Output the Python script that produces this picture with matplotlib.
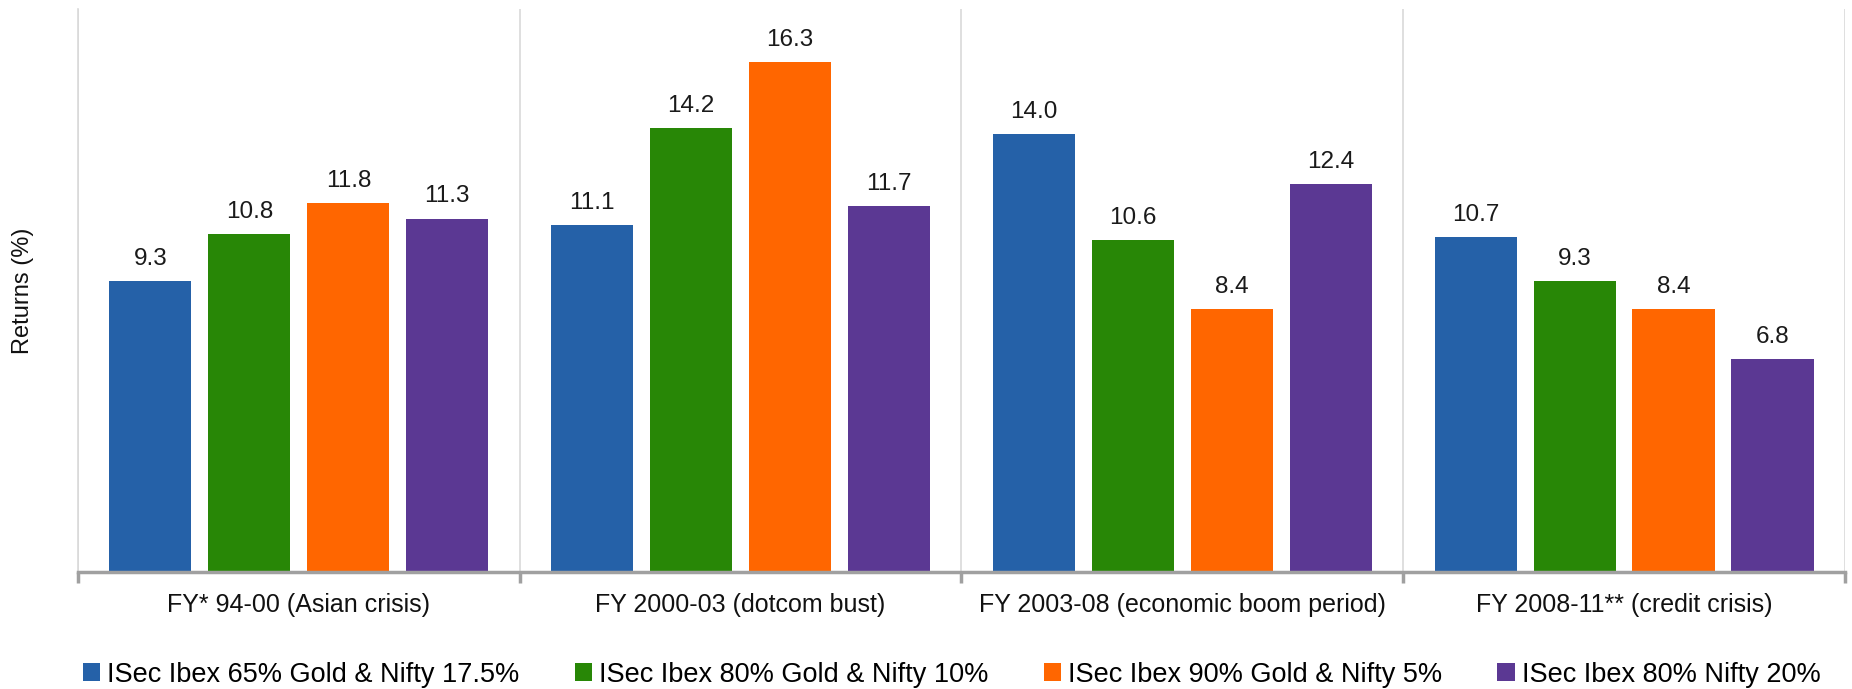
import numpy as np
import matplotlib
matplotlib.use("Agg")
import matplotlib.pyplot as plt

periods = ["FY* 94-00 (Asian crisis)", "FY 2000-03 (dotcom bust)",
           "FY 2003-08 (economic boom period)", "FY 2008-11** (credit crisis)"]
series_names = ["ISec Ibex 65% Gold & Nifty 17.5%", "ISec Ibex 80% Gold & Nifty 10%",
                "ISec Ibex 90% Gold & Nifty 5%", "ISec Ibex 80% Nifty 20%"]
mix_65_gold = [9.3, 11.1, 14.0, 10.7]
mix_80_gold = [10.8, 14.2, 10.6, 9.3]
mix_90_gold = [11.8, 16.3, 8.4, 8.4]
mix_80_nifty = [11.3, 11.7, 12.4, 6.8]
colors = ["#2561A8", "#288706", "#FF6600", "#5B3893"]

plt.rcParams["font.family"] = ["Liberation Sans", "DejaVu Sans"]

fig = plt.figure(figsize=(18.52, 6.89), dpi=100)
ax = fig.add_axes([0.0421, 0.1698, 0.9541, 0.8171])

step, width = 0.224, 0.186
centers = np.arange(len(periods)) + 0.5
all_series = [mix_65_gold, mix_80_gold, mix_90_gold, mix_80_nifty]
for i, vals in enumerate(all_series):
    bars = ax.bar(centers + (i - 1.5) * step, vals, width, color=colors[i],
                  label=series_names[i], zorder=2)
    ax.bar_label(bars, labels=[f"{v:.1f}" for v in vals], padding=8,
                 fontsize=17.5, color="#1a1a1a")

ax.set_xlim(0, len(periods))
ax.set_ylim(0, 18)

# period boundaries: light gridlines with ticks hanging below the axis
ax.set_xticks(np.arange(len(periods) + 1))
ax.set_xticklabels([])
ax.tick_params(axis="x", which="major", direction="out", length=8, width=2.5,
               color="#a0a0a0")
ax.set_xticks(centers, minor=True)
ax.set_xticklabels(periods, minor=True, fontsize=18, color="#111111")
ax.tick_params(axis="x", which="minor", length=0, pad=15)
ax.grid(axis="x", which="major", color="#d9d9d9", linewidth=1.2, zorder=0)
ax.set_yticks([])

for side in ["top", "right"]:
    ax.spines[side].set_visible(False)
ax.spines["left"].set_color("#d9d9d9")
ax.spines["left"].set_linewidth(1.2)
ax.spines["bottom"].set_color("#a0a0a0")
ax.spines["bottom"].set_linewidth(2.5)

ax.set_ylabel("Returns (%)", fontsize=17, color="#111111")
ax.yaxis.set_label_coords(-0.025, 0.5)

fig.legend(loc="center", bbox_to_anchor=(0.5138, 0.021), ncol=4, frameon=False,
           prop={"size": 19.5}, handlelength=0.63, handleheight=0.63,
           handletextpad=0.26, columnspacing=2.05, borderaxespad=0, borderpad=0)

fig.savefig("out.png", dpi=100)
